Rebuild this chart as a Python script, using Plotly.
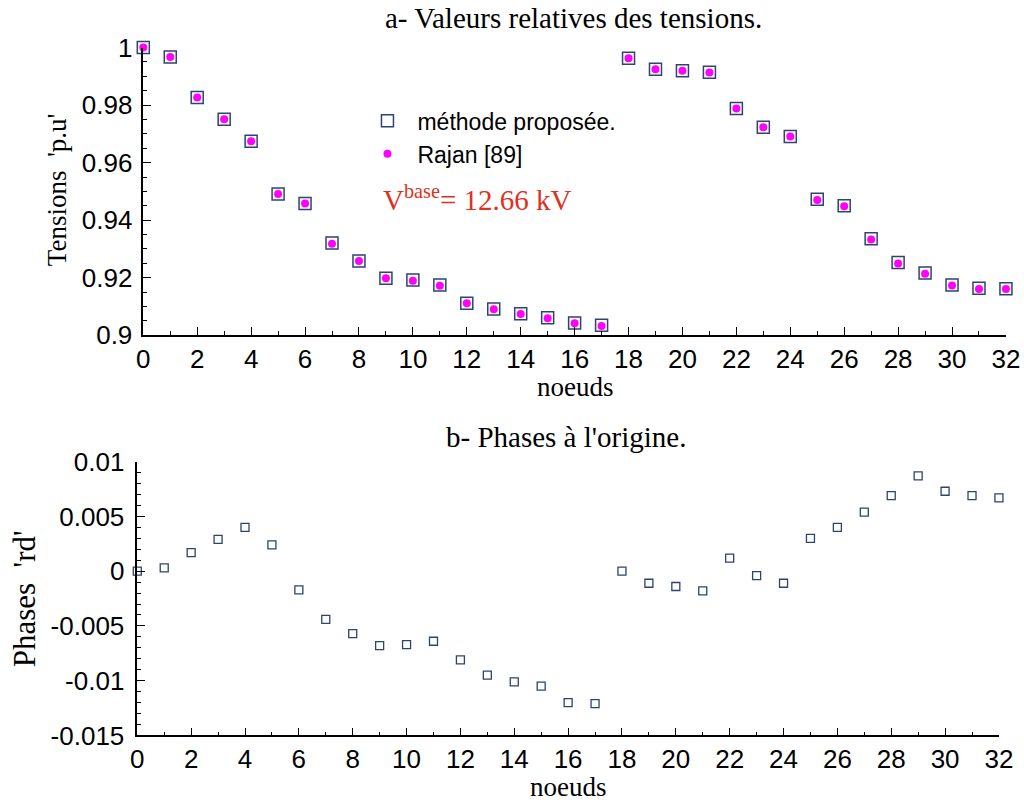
import plotly.graph_objects as go

# ---------------- data ----------------
nodes = list(range(33))

tension_methode = [1.0, 0.9967, 0.9826, 0.9751, 0.9674, 0.9491, 0.9458, 0.9321, 0.9258, 0.9198,
                   0.9192, 0.9175, 0.9111, 0.9091, 0.9075, 0.9061, 0.9043, 0.9035, 0.9963, 0.9925,
                   0.9919, 0.9914, 0.9788, 0.9723, 0.9691, 0.9473, 0.9450, 0.9335, 0.9253, 0.9216,
                   0.9175, 0.9163, 0.9162]

tension_rajan = [1.0, 0.9967, 0.9826, 0.9751, 0.9674, 0.9491, 0.9458, 0.9318, 0.9258, 0.9198,
                 0.9189, 0.9172, 0.9111, 0.9090, 0.9074, 0.9059, 0.9042, 0.9032, 0.9963, 0.9925,
                 0.9919, 0.9913, 0.9788, 0.9723, 0.9691, 0.9470, 0.9448, 0.9333, 0.9249, 0.9214,
                 0.9173, 0.9161, 0.9161]

phases = [0.0, 0.0003, 0.0017, 0.0029, 0.0040, 0.0024, -0.0017, -0.0044, -0.0057, -0.0068,
          -0.0067, -0.0064, -0.0081, -0.0095, -0.0101, -0.0105, -0.0120, -0.0121, 0.0000, -0.0011,
          -0.0014, -0.0018, 0.0012, -0.0004, -0.0011, 0.0030, 0.0040, 0.0054, 0.0069, 0.0087,
          0.0073, 0.0069, 0.0067]

x_tickvals = list(range(0, 33, 2))
x_ticktext = [str(v) for v in x_tickvals]
y1_tickvals = [0.9, 0.92, 0.94, 0.96, 0.98, 1.0]
y1_ticktext = ["0.9", "0.92", "0.94", "0.96", "0.98", "1"]
y2_tickvals = [-0.015, -0.01, -0.005, 0.0, 0.005, 0.01]
y2_ticktext = ["-0.015", "-0.01", "-0.005", "0", "0.005", "0.01"]

# ---------------- figure ----------------
W, H = 1036, 803
# empirical mapping between figure pixels and the photographed page
AX, BX = 0.979, 6.8
AY, BY = 0.967, 13.3
navy = "#2f4272"
serif = "Liberation Serif"
sans = "Liberation Sans"

fig = go.Figure()
fig.add_trace(go.Scatter(x=nodes, y=tension_methode, mode="markers", name="méthode proposée.",
                         marker=dict(symbol="square-open", size=12, color=navy, line=dict(width=1.5, color=navy)),
                         xaxis="x", yaxis="y", cliponaxis=False))
fig.add_trace(go.Scatter(x=nodes, y=tension_rajan, mode="markers", name="Rajan [89]",
                         marker=dict(symbol="circle", size=8, color="#ff00ff"),
                         xaxis="x", yaxis="y", cliponaxis=False))
fig.add_trace(go.Scatter(x=nodes, y=phases, mode="markers", showlegend=False,
                         marker=dict(symbol="square-open", size=8, color=navy, line=dict(width=1.3, color=navy)),
                         xaxis="x2", yaxis="y2", cliponaxis=False))

def px_x(t):
    return ((t - BX) / AX) / W

def px_y(t):
    return 1 - ((t - BY) / AY) / H

axis_common = dict(showline=True, linecolor="black", linewidth=1.5, showgrid=False, zeroline=False,
                   ticks="inside", ticklen=8, tickwidth=1.3, tickcolor="black",
                   tickfont=dict(family=sans, size=26, color="black"), mirror=False)

fig.update_layout(
    width=W, height=H, margin=dict(l=0, r=0, t=0, b=0),
    paper_bgcolor="white", plot_bgcolor="white",
    xaxis=dict(domain=[px_x(143), px_x(1005)], range=[0, 32], anchor="y",
               tickvals=x_tickvals, ticktext=x_ticktext, ticklabeloverflow="allow",
               minor=dict(dtick=1, ticks="inside", ticklen=4, tickcolor="black"), **axis_common),
    yaxis=dict(domain=[px_y(335), px_y(46)], range=[0.9, 1.0], anchor="x",
               tickvals=y1_tickvals, ticktext=y1_ticktext, ticklabelstandoff=4,
               minor=dict(dtick=0.005, tick0=0.9, ticks="inside", ticklen=4, tickcolor="black"), **axis_common),
    xaxis2=dict(domain=[px_x(137), px_x(998)], range=[0, 32], anchor="y2",
                tickvals=x_tickvals, ticktext=x_ticktext, ticklabeloverflow="allow",
                minor=dict(dtick=1, ticks="inside", ticklen=4, tickcolor="black"), **axis_common),
    yaxis2=dict(domain=[px_y(737), px_y(462)], range=[-0.015, 0.01], anchor="x2",
                tickvals=y2_tickvals, ticktext=y2_ticktext, ticklabelstandoff=6,
                minor=dict(dtick=0.001, tick0=0, ticks="inside", ticklen=4, tickcolor="black"), **axis_common),
    legend=dict(x=px_x(357), y=px_y(98), xanchor="left", yanchor="top",
                font=dict(family=sans, size=23, color="black"), bgcolor="rgba(0,0,0,0)",
                itemsizing="trace", itemwidth=50, tracegroupgap=0),
)

annos = [
    dict(text="a- Valeurs relatives des tensions.", x=573, y=16, size=29, angle=0, font=serif, color="black"),
    dict(text="noeuds", x=575, y=387, size=27, angle=0, font=serif, color="black"),
    dict(text="Tensions  'p.u'", x=57, y=189, size=27, angle=-90, font=serif, color="black"),
    dict(text="b- Phases à l'origine.", x=565, y=437, size=29, angle=0, font=serif, color="black"),
    dict(text="noeuds", x=568, y=789, size=27, angle=0, font=serif, color="black"),
    dict(text="Phases  'rd'", x=24, y=600, size=31, angle=-90, font=serif, color="black"),
    dict(text="V<sup>base</sup>= 12.66 kV", x=477, y=197, size=29, angle=0, font=serif, color="#e0301e"),
]
for a in annos:
    fig.add_annotation(text=a["text"], x=px_x(a["x"]), y=px_y(a["y"]), xref="paper", yref="paper",
                       showarrow=False, textangle=a["angle"], xanchor="center", yanchor="middle",
                       font=dict(family=a["font"], size=a["size"], color=a["color"]))

fig.write_html("out.html")
